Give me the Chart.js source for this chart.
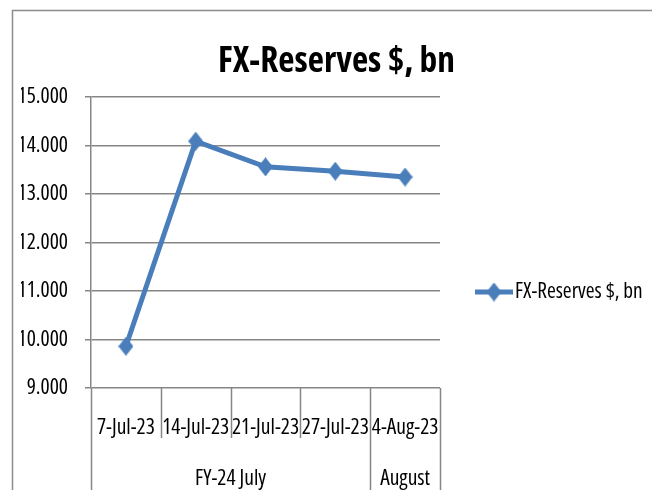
<!DOCTYPE html>
<html>
<head>
<meta charset="utf-8">
<script src="https://cdn.jsdelivr.net/npm/chart.js@4/dist/chart.umd.min.js"></script>
<style>
  html, body { margin: 0; padding: 0; background: #fff; }
  #wrap { width: 652px; height: 490px; }
</style>
</head>
<body>
<div id="wrap"><canvas id="c" width="652" height="490"></canvas></div>
<script>
// ---- data ----
const categories = ["7-Jul-23", "14-Jul-23", "21-Jul-23", "27-Jul-23", "4-Aug-23"];
const reserves = [9.86, 14.09, 13.56, 13.47, 13.35];
const groupLabels = ["FY-24 July", "August"];
const groupSpans = [4, 1];
const seriesName = "FX-Reserves $, bn";
const chartTitle = "FX-Reserves $, bn";
const yMin = 9, yMax = 15, yStep = 1;

// ---- style ----
const FAMILY = '"Open Sans", "Carlito", sans-serif';
const GRID = '#868686';
const LINE = '#4a7ebb';

// size fonts to the reference text widths
const mctx = document.createElement('canvas').getContext('2d');
function fitSize(text, weight, target) {
  mctx.font = weight + ' 100px ' + FAMILY;
  return Math.round(1000 * target / mctx.measureText(text).width) / 10;
}
const tickSize = fitSize('14-Jul-23', 'condensed', 67);
const legendSize = fitSize(seriesName, 'condensed', 128);
const titleSize = fitSize(chartTitle, 'bold condensed', 237);

// diamond marker image
function diamond(w, h) {
  const c = document.createElement('canvas');
  c.width = w; c.height = h;
  const g = c.getContext('2d');
  g.fillStyle = LINE;
  g.beginPath();
  g.moveTo(w / 2, 0); g.lineTo(w, h / 2); g.lineTo(w / 2, h); g.lineTo(0, h / 2);
  g.closePath(); g.fill();
  return c;
}
const marker = diamond(15, 19);

const decorPlugin = {
  id: 'decor',
  afterDraw(chart) {
    const ctx = chart.ctx;
    const xs = chart.scales.x;
    const bottom = chart.chartArea.bottom;
    ctx.save();
    // outer frame
    ctx.strokeStyle = '#8c8c8c';
    ctx.lineWidth = 1.5;
    ctx.strokeRect(12.5, 10.5, 700, 600);

    // category dividers
    const edges = new Set([0]);
    let acc = 0;
    groupSpans.forEach(s => { acc += s; edges.add(acc); });
    ctx.strokeStyle = GRID;
    ctx.lineWidth = 1.5;
    for (let i = 0; i <= categories.length; i++) {
      const x = Math.round(xs.getPixelForValue(i - 0.5)) + 0.5;
      ctx.beginPath();
      ctx.moveTo(x, bottom);
      ctx.lineTo(x, edges.has(i) ? chart.height : bottom + 50);
      ctx.stroke();
    }
    // group labels
    ctx.fillStyle = '#000';
    ctx.font = 'condensed ' + tickSize + 'px ' + FAMILY;
    ctx.textAlign = 'center';
    ctx.textBaseline = 'middle';
    let start = 0;
    groupLabels.forEach((g, k) => {
      const x0 = xs.getPixelForValue(start - 0.5);
      const x1 = xs.getPixelForValue(start + groupSpans[k] - 0.5);
      ctx.fillText(g, (x0 + x1) / 2, bottom + 91);
      start += groupSpans[k];
    });

    // legend
    const ly = 292, lx0 = 475, lx1 = 513;
    ctx.strokeStyle = LINE;
    ctx.lineWidth = 5;
    ctx.beginPath();
    ctx.moveTo(lx0, ly);
    ctx.lineTo(lx1, ly);
    ctx.stroke();
    const cx = (lx0 + lx1) / 2;
    ctx.drawImage(marker, cx - marker.width / 2, ly - marker.height / 2);
    ctx.fillStyle = '#000';
    ctx.font = 'condensed ' + legendSize + 'px ' + FAMILY;
    ctx.textAlign = 'left';
    ctx.fillText(chart.data.datasets[0].label, lx1 + 2, ly);
    ctx.restore();
  }
};

new Chart(document.getElementById('c'), {
  type: 'line',
  data: {
    labels: categories,
    datasets: [{
      label: seriesName,
      data: reserves,
      borderColor: LINE,
      backgroundColor: LINE,
      borderWidth: 5,
      tension: 0,
      pointStyle: marker,
      pointRadius: 9,
      yAxisID: 'y'
    }]
  },
  options: {
    responsive: false,
    animation: false,
    devicePixelRatio: 1,
    layout: { padding: { left: 21, right: 0, top: 0, bottom: 0 } },
    plugins: {
      legend: { display: false },
      tooltip: { enabled: false },
      title: {
        display: true,
        text: chartTitle,
        color: '#000',
        font: { family: FAMILY, size: titleSize, weight: 'bold condensed', lineHeight: 1.2 },
        padding: { top: 97 - titleSize * 1.2 - 14, bottom: 14 }
      }
    },
    scales: {
      x: {
        offset: true,
        grid: { display: false },
        border: { display: false },
        ticks: {
          color: '#000',
          font: { family: FAMILY, size: tickSize, weight: 'condensed' },
          padding: 19,
          maxRotation: 0,
          autoSkip: false
        },
        afterFit: s => { s.height = 102; }
      },
      y: {
        position: 'left',
        min: yMin,
        max: yMax,
        ticks: {
          stepSize: yStep,
          color: '#000',
          font: { family: FAMILY, size: tickSize, weight: 'condensed' },
          padding: 17,
          callback: v => Number(v).toFixed(3)
        },
        grid: { color: GRID, lineWidth: 1.5, tickLength: 6 },
        border: { display: true, color: GRID, width: 1.5 },
        afterFit: s => { s.width = 70; }
      },
      y2: {
        position: 'right',
        display: true,
        grid: { display: false },
        border: { display: false },
        ticks: { display: false },
        afterFit: s => { s.width = 212; }
      }
    }
  },
  plugins: [decorPlugin]
});
</script>
</body>
</html>
